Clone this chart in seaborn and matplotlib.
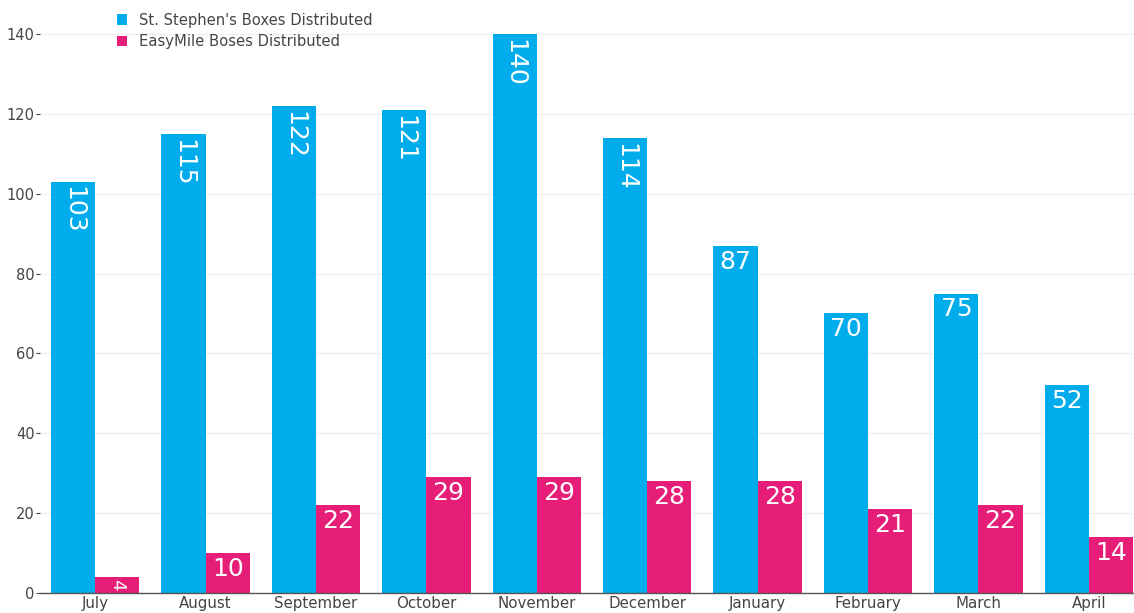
import numpy as np
import pandas as pd
import matplotlib
matplotlib.use("Agg")
import matplotlib.pyplot as plt
import seaborn as sns

months = ["July", "August", "September", "October", "November", "December",
          "January", "February", "March", "April"]
st_stephens = [103, 115, 122, 121, 140, 114, 87, 70, 75, 52]
easymile = [4, 10, 22, 29, 29, 28, 28, 21, 22, 14]
series_names = ["St. Stephen's Boxes Distributed", "EasyMile Boses Distributed"]
palette = ["#00acec", "#e61e78"]

df = pd.DataFrame({
    "month": months * 2,
    "boxes": st_stephens + easymile,
    "series": [series_names[0]] * len(months) + [series_names[1]] * len(months),
})

sns.set_style("white")
plt.rcParams["font.family"] = ["DejaVu Sans"]

fig = plt.figure(figsize=(11.34, 6.13), dpi=100)
ax = fig.add_axes([40 / 1134, 20 / 613, (1144 - 40) / 1134, 593 / 613])
ax.set_facecolor("#ffffff")

sns.barplot(data=df, x="month", y="boxes", hue="series", order=months,
            hue_order=series_names, palette=palette, width=0.8, saturation=1,
            linewidth=0, ax=ax, legend=True)

ax.set_xlim(-0.5, len(months) - 0.5)
ax.set_ylim(0, 148.5)
ax.set_yticks(range(0, 141, 20))
ax.yaxis.grid(True, color="#f0f0f0", linewidth=1)
ax.set_axisbelow(True)
for s in ["top", "right", "left"]:
    ax.spines[s].set_visible(False)
ax.spines["bottom"].set_color("#555555")
ax.spines["bottom"].set_linewidth(1)
ax.tick_params(axis="y", colors="#444444", labelsize=10.5, length=3, width=0.8, pad=1, left=True)
ax.tick_params(axis="x", colors="#444444", labelsize=10.8, length=0, pad=2)
ax.set_xlabel("")
ax.set_ylabel("")

# value labels inside the bars
for cont in ax.containers:
    for patch in cont:
        h = patch.get_height()
        cx = patch.get_x() + patch.get_width() / 2
        txt = str(int(round(h)))
        if h < 8:
            ax.text(cx, h - 0.5, txt, rotation=-90, ha="center", va="top",
                    color="white", fontsize=13, clip_on=True)
        elif len(txt) >= 3:
            ax.text(cx, h - 1.2, txt, rotation=-90, ha="center", va="top",
                    color="white", fontsize=18)
        else:
            ax.text(cx, h - 1.0, txt, ha="center", va="top",
                    color="white", fontsize=18)

leg = ax.legend(loc="upper left", bbox_to_anchor=(64 / 1104, 1.0), frameon=False,
                fontsize=10.6, handlelength=0.7, handleheight=0.7, handletextpad=0.8,
                labelspacing=0.45, borderaxespad=0.45)
for t in leg.get_texts():
    t.set_color("#444444")

fig.savefig("out.png", dpi=100)
